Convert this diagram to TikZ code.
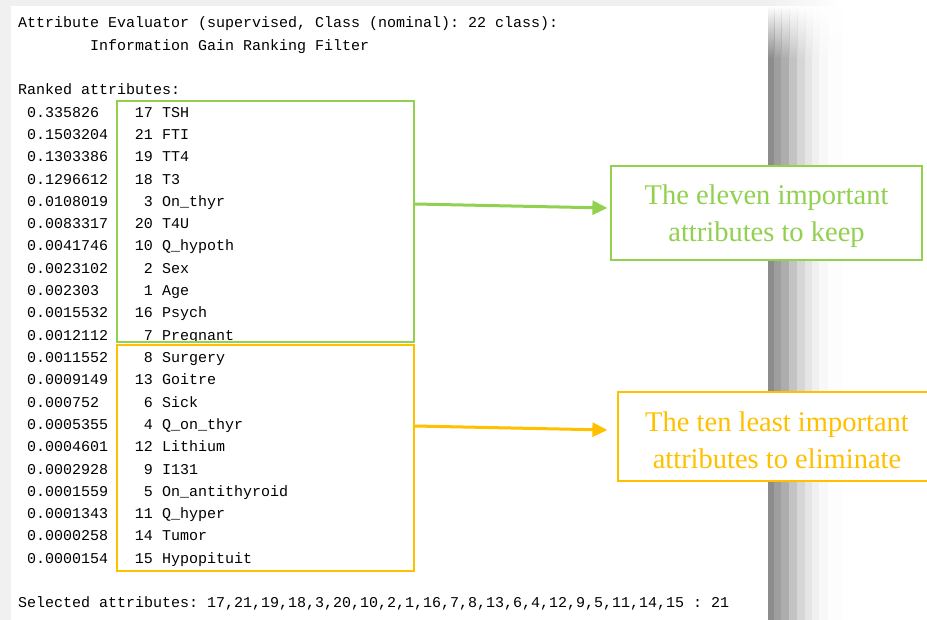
\documentclass[tikz,border=0pt]{standalone}
\usepackage{fontspec}
\setmainfont{Liberation Serif}
\setmonofont{Liberation Mono}
\usetikzlibrary{arrows.meta,fadings}
\definecolor{keepgreen}{HTML}{92D050}
\definecolor{dropgold}{HTML}{FFC000}
\definecolor{frame}{HTML}{F0F0F0}
\tikzset{
  mono/.style={font=\ttfamily\fontsize{15}{15}\selectfont\frenchspacing,
    inner sep=0pt, anchor=base west, text=black},
  monoR/.style={mono, anchor=base east},
  groupbox/.style={draw=#1, line width=2pt, inner sep=0pt, minimum width=297pt},
  notebox/.style={draw=#1, text=#1, fill=white, line width=1.2pt, inner sep=0pt,
    align=center, font=\fontsize{28.5}{37}\selectfont},
  pointer/.style={draw=#1, line width=3pt,
    -{Triangle[length=15pt,width=14pt,fill=#1]}}
}
\begin{document}
\begin{tikzpicture}[x=1pt,y=-1pt]
\useasboundingbox (0,0) rectangle (927,620);
\clip (0,0) rectangle (927,620);
\fill[white] (0,0) rectangle (927,620);
% window frame edges
\fill[frame] (0,0) rectangle (11,620);
\fill[frame] (0,0) rectangle (768,6);
\shade[left color=frame, right color=white] (768,0) rectangle (843,6);
% drop shadow on the right of the output pane
\foreach \xa/\xb/\c in {768/775/8C8C8C, 774/782/9E9E9E, 781/790/ADADAD,
    789/798/C3C3C3, 797/806/D6D6D6, 805/813/E5E5E5, 812/820/F0F0F0,
    819/829/F8F8F8, 828/843/FDFDFD} {
  \definecolor{shadeband}{HTML}{\c}
  \fill[shadeband] (\xa,58) rectangle (\xb,620);
  \fill[shadeband, path fading=north] (\xa,6) rectangle (\xb,58.5);
}

% header of the evaluator output
\node[mono] (h1) at (18,28) {Attribute Evaluator (supervised, Class (nominal): 22 class):};
\node[mono] (h2) at (90,50.3) {Information Gain Ranking Filter};
\node[mono] (h3) at (18,94.9) {Ranked attributes:};

% ranked attributes
\foreach \v/\n/\a [count=\k from 0] in {
  0.335826/17/TSH, 0.1503204/21/FTI, 0.1303386/19/TT4, 0.1296612/18/T3,
  0.0108019/3/On\_thyr, 0.0083317/20/T4U, 0.0041746/10/Q\_hypoth,
  0.0023102/2/Sex, 0.002303/1/Age, 0.0015532/16/Psych, 0.0012112/7/Pregnant,
  0.0011552/8/Surgery, 0.0009149/13/Goitre, 0.000752/6/Sick,
  0.0005355/4/Q\_on\_thyr, 0.0004601/12/Lithium, 0.0002928/9/I131,
  0.0001559/5/On\_antithyroid, 0.0001343/11/Q\_hyper, 0.0000258/14/Tumor,
  0.0000154/15/Hypopituit} {
  \node[mono] (val\k) at (27,117.2+22.3*\k) {\v};
  \node[monoR] (num\k) at (153,117.2+22.3*\k) {\n};
  \node[mono] (name\k) at (162,117.2+22.3*\k) {\a};
}

\node[mono] (sel) at (18,607.8) {Selected attributes: 17,21,19,18,3,20,10,2,1,16,7,8,13,6,4,12,9,5,11,14,15 : 21};

% grouping frames
\node[groupbox=keepgreen, minimum height=241pt] (gbox) at (265.5,221.5) {};
\node[groupbox=dropgold, minimum height=226pt] (obox) at (265.5,458) {};

% explanatory notes (the strut lowers the two lines a little inside the frame)
\node[notebox=keepgreen, minimum width=311pt, minimum height=94pt] (keep) at (766.5,213)
  {\rule{0pt}{25.5pt}The eleven important\\attributes to keep};
\node[notebox=dropgold, minimum width=318pt, minimum height=89pt] (drop) at (777,436.5)
  {\rule{0pt}{26.5pt}The ten least important\\attributes to eliminate};

% pointers from the frames to the notes
\path (gbox.east) ++(0,-17.5) coordinate (gA);
\path (keep.west) ++(-3,-5) coordinate (gB);
\path (obox.east) ++(0,-32) coordinate (oA);
\path (drop.west) ++(-10,-6.5) coordinate (oB);
\draw[pointer=keepgreen] (gA) -- (gB);
\draw[pointer=dropgold] (oA) -- (oB);
\end{tikzpicture}
\end{document}
